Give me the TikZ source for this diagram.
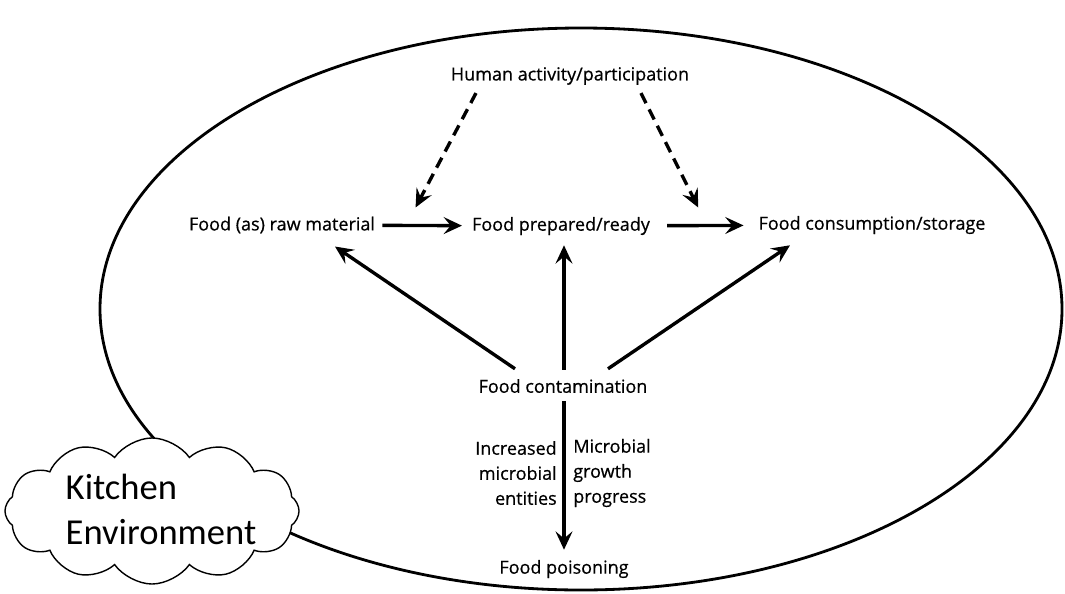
\documentclass[tikz,border=0pt]{standalone}
\usepackage{fontspec}
\setmainfont{Open Sans}[FakeBold=0.6]
\newfontfamily\cloudfont{Carlito}
\usetikzlibrary{arrows.meta,calc,shapes.symbols}

\begin{document}
\begin{tikzpicture}[x=0.025cm, y=-0.025cm,
  lbl/.style={inner sep=0pt, font=\fontsize{12.8}{17.8}\selectfont},
  arr/.style={-{Stealth[length=13pt,width=12pt,inset=5pt]}, line width=2.4pt},
  dasharr/.style={arr, dash pattern=on 8pt off 5pt}]

  \useasboundingbox (0,0) rectangle (1065,593);

  % === Kitchen boundary ===
  \draw[line width=2pt] (581,309) ellipse [x radius=481, y radius=281];

  % === Cloud (bottom left) ===
  \node[cloud, draw, fill=white, line width=1pt, cloud puffs=12, cloud puff arc=110, cloud ignores aspect,
        minimum width=7.35cm, minimum height=3.65cm, inner sep=0pt] (kitchen) at (152,511) {};
  \node[inner sep=0pt, align=left, font=\cloudfont\fontsize{26}{32}\selectfont] (kitchentxt) at (161,509) {Kitchen\\Environment};

  % === Labels ===
  \node[lbl] (human) at (570,76) {Human activity/participation};
  \node[lbl] (raw) at (282,225) {Food (as) raw material};
  \node[lbl] (prep) at (561,226) {Food prepared/ready};
  \node[lbl] (cons) at (872,225) {Food consumption/storage};
  \node[lbl] (contam) at (563,386) {Food contamination};
  \node[lbl] (poison) at (564,569) {Food poisoning};
  \node[lbl, align=right, anchor=east] (increase) at (557,473) {Increased\\microbial\\entities};
  \node[lbl, align=left, anchor=west] (growth) at (573,473) {Microbial\\growth\\progress};

  % === Chain of food ===
  \draw[arr, shorten <=5pt, shorten >=7pt] (raw) -- coordinate[pos=0.5] (rawprep) (prep);
  \draw[arr, shorten <=12pt, shorten >=10.5pt] (prep) -- coordinate[pos=0.5] (prepcons) (cons);

  % === Human participation (dashed) ===
  \draw[dasharr] ($(human.south)+(-94,8)$) -- ($(rawprep)+(-8,-18)$);
  \draw[dasharr] ($(human.south)+(71,8)$) -- ($(prepcons)+(-6,-18)$);

  % === Contamination ===
  \draw[arr] ($(contam.north)+(-48,-10)$) -- ($(raw.south)+(53,13)$);
  \draw[arr] ($(contam.north)+(1,-9)$) -- ($(prep.south)+(3,10)$);
  \draw[arr] ($(contam.north)+(45,-10)$) -- ($(cons.south)+(-82,11)$);
  \draw[arr] ($(contam.south)+(1,8)$) -- ($(poison.north)+(0,-10)$);

\end{tikzpicture}
\end{document}
